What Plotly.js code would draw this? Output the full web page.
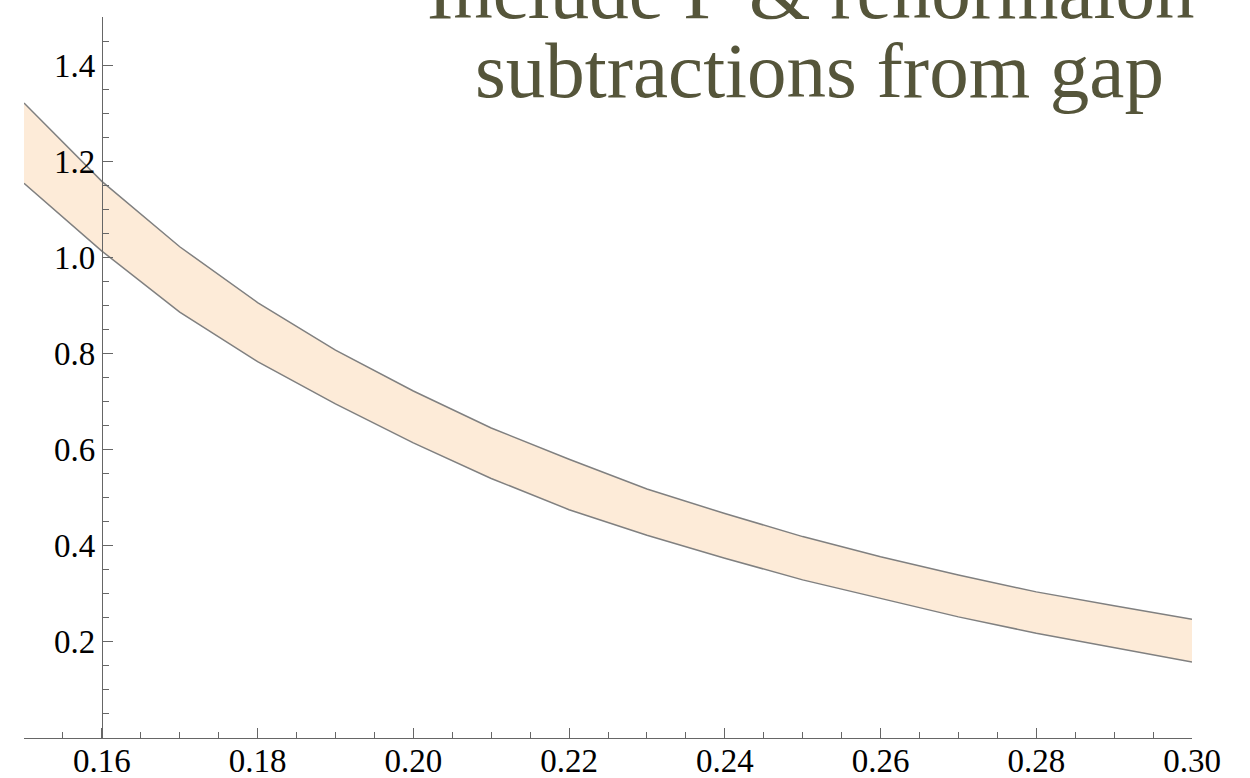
<!DOCTYPE html>
<html>
<head>
<meta charset="utf-8">
<script src="https://cdn.plot.ly/plotly-3.0.1.min.js"></script>
<style>html,body{margin:0;padding:0;background:#fff;}#chart{width:1250px;height:778px;}</style>
</head>
<body>
<div id="chart"></div>
<script>
const xValues = [0.15, 0.16, 0.17, 0.18, 0.19, 0.20, 0.21, 0.22, 0.23, 0.24, 0.25, 0.26, 0.27, 0.28, 0.29, 0.30];
const upperBand = [1.321, 1.158, 1.022, 0.906, 0.807, 0.722, 0.645, 0.580, 0.518, 0.467, 0.419, 0.377, 0.339, 0.304, 0.275, 0.247];
const lowerBand = [1.154, 1.013, 0.886, 0.783, 0.695, 0.614, 0.540, 0.475, 0.422, 0.374, 0.329, 0.291, 0.252, 0.218, 0.188, 0.158];
const yTickVals = [0.2, 0.4, 0.6, 0.8, 1.0, 1.2, 1.4];
const yTickText = ["0.2", "0.4", "0.6", "0.8", "1.0", "1.2", "1.4"];
const titleLines = ["Include \u0393 & renormalon", "subtractions from gap"];

const lineStyle = {color: '#808080', width: 1.5};
const traces = [
  {x: xValues, y: lowerBand, type: 'scatter', mode: 'lines', line: lineStyle, hoverinfo: 'skip', showlegend: false},
  {x: xValues, y: upperBand, type: 'scatter', mode: 'lines', line: lineStyle, fill: 'tonexty', fillcolor: 'rgb(253,235,216)', hoverinfo: 'skip', showlegend: false}
];

const tickFont = {family: '"Liberation Serif", "Times New Roman", serif', size: 33, color: '#000'};
const titleFont = {family: '"Liberation Serif", "Times New Roman", serif', size: 79, color: 'rgb(85,85,58)'};

const layout = {
  width: 1250, height: 778,
  margin: {l: 24, r: 58, t: 17, b: 40},
  paper_bgcolor: '#fff', plot_bgcolor: '#fff',
  showlegend: false,
  xaxis: {
    range: [0.15, 0.30], tick0: 0.16, dtick: 0.02, tickformat: '.2f',
    showgrid: false, zeroline: false, showline: true, linecolor: '#666', linewidth: 1,
    ticks: 'inside', ticklen: 10, tickcolor: '#666', tickwidth: 1,
    ticklabelstandoff: -7,
    minor: {dtick: 0.005, tick0: 0.15, ticks: 'inside', ticklen: 6, tickcolor: '#666', showgrid: false},
    tickfont: tickFont, fixedrange: true
  },
  yaxis: {
    range: [0, 1.5], tickvals: yTickVals, ticktext: yTickText,
    anchor: 'free', position: 0.0667, side: 'left',
    showgrid: false, zeroline: false, showline: true, linecolor: '#666', linewidth: 1,
    ticks: 'inside', ticklen: 10, tickcolor: '#666', tickwidth: 1,
    minor: {dtick: 0.05, tick0: 0, ticks: 'inside', ticklen: 6, tickcolor: '#666', showgrid: false},
    tickfont: tickFont, fixedrange: true
  },
  annotations: [
    {text: titleLines[0], xref: 'paper', yref: 'paper', x: 0.673, y: 0.972, xanchor: 'center', yanchor: 'bottom', showarrow: false, font: titleFont},
    {text: titleLines[1], xref: 'paper', yref: 'paper', x: 0.6815, y: 0.862, xanchor: 'center', yanchor: 'bottom', showarrow: false, font: titleFont}
  ]
};

Plotly.newPlot('chart', traces, layout, {displayModeBar: false, staticPlot: true});
</script>
</body>
</html>
